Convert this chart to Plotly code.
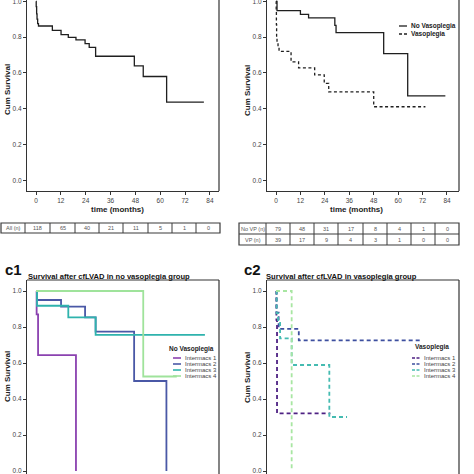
import plotly.graph_objects as go

# ---------------- data ----------------
# Panel a: all patients
t_all = [0, 0.1, 0.3, 0.5, 0.8, 1.2, 7.9, 12.1, 15.6, 19.3, 23.7, 25.7, 28.8, 47.5, 51.8, 63.1, 81.1]
s_all = [1.0, 0.97, 0.93, 0.90, 0.875, 0.862, 0.838, 0.814, 0.799, 0.784, 0.764, 0.743, 0.693, 0.639, 0.580, 0.437, 0.437]

# Panel b
t_novp = [0, 0.5, 12.0, 16.0, 28.9, 29.5, 52.9, 64.7, 83.2]
s_novp = [1.0, 0.948, 0.927, 0.907, 0.866, 0.825, 0.708, 0.472, 0.472]
t_vp = [0, 0.1, 0.2, 0.3, 0.5, 1.0, 1.5, 7.4, 11.1, 19.0, 23.7, 25.9, 48.0, 73.4]
s_vp = [1.0, 0.95, 0.87, 0.80, 0.77, 0.745, 0.72, 0.662, 0.628, 0.589, 0.541, 0.494, 0.411, 0.411]

# Panel c1: no vasoplegia by Intermacs
c1_t = [
    [0, 0.3, 1.0, 19.3],
    [0, 0.5, 12.1, 23.7, 28.8, 47.4, 63.0],
    [0, 0.5, 15.6, 28.8, 81.6],
    [0, 51.8, 68.0],
]
c1_s = [
    [1.0, 0.87, 0.644, 0.0],
    [1.0, 0.95, 0.913, 0.854, 0.774, 0.50, 0.0],
    [1.0, 0.918, 0.854, 0.756, 0.756],
    [1.0, 0.525, 0.525],
]
# Panel c2: vasoplegia by Intermacs
c2_t = [
    [0, 0.2, 0.5, 26.7],
    [0, 0.3, 1.3, 11.2, 71.7],
    [0, 0.3, 1.0, 2.0, 7.7, 26.2, 34.9],
    [0, 7.7],
]
c2_s = [
    [1.0, 0.84, 0.32, 0.32],
    [1.0, 0.88, 0.79, 0.726, 0.726],
    [1.0, 0.876, 0.83, 0.737, 0.589, 0.30, 0.30],
    [1.0, 0.0],
]
intermacs_names = ["Intermacs 1", "Intermacs 2", "Intermacs 3", "Intermacs 4"]
c1_colors = ["#8b42b0", "#4a58a6", "#2fb3ad", "#9fe39b"]
c2_colors = ["#4e2183", "#3d4f9f", "#45bbb1", "#a8e6a2"]

x_ticks = [0, 12, 24, 36, 48, 60, 72, 84]
y_ticks = [0.0, 0.2, 0.4, 0.6, 0.8, 1.0]

risk_all_label = "All (n)"
risk_all = [118, 65, 40, 21, 11, 5, 1, 0]
risk_novp_label = "No VP (n)"
risk_novp = [79, 48, 31, 17, 8, 4, 1, 0]
risk_vp_label = "VP (n)"
risk_vp = [39, 17, 9, 4, 3, 1, 0, 0]

# ---------------- figure ----------------
W = H = 474
FONT = "Liberation Sans, Arial, sans-serif"
AX = "#333333"

def px(x):
    return x / W

def py(y):
    return 1 - y / H

fig = go.Figure()

def km(t, s, xa, ya, color, width=1.4, dash="solid"):
    fig.add_trace(go.Scatter(x=t, y=s, mode="lines", line_shape="hv",
                             line=dict(color=color, width=width, dash=dash),
                             xaxis=xa, yaxis=ya, showlegend=False, hoverinfo="skip"))

km(t_all, s_all, "x", "y", "#1f1f1f", 1.3)
km(t_novp, s_novp, "x2", "y2", "#1f1f1f", 1.3)
km(t_vp, s_vp, "x2", "y2", "#1f1f1f", 1.3, "3px,2.5px")
for i in range(4):
    km(c1_t[i], c1_s[i], "x3", "y3", c1_colors[i], 1.8)
for i in range(4):
    km(c2_t[i], c2_s[i], "x4", "y4", c2_colors[i], 1.8, "4px,3px")

tickfont = dict(size=6.5, color="#444", family=FONT)

def xaxis(dom, rng, show=True, anchor="y"):
    d = dict(domain=dom, range=rng, anchor=anchor, showgrid=False, zeroline=False,
             tickvals=x_ticks, tickfont=tickfont, automargin=False,
             ticklabeloverflow="allow")
    if show:
        d.update(showline=True, linecolor=AX, linewidth=1.2, ticks="outside",
                 ticklen=3, tickcolor=AX, tickwidth=1)
    else:
        d.update(showline=False, showticklabels=False, ticks="")
    return d

def yaxis(dom, rng, anchor):
    return dict(domain=dom, range=rng, anchor=anchor, showgrid=False, zeroline=False,
                tickvals=y_ticks, tickformat=".1f", tickfont=tickfont, automargin=False,
                ticklabeloverflow="allow",
                showline=True, linecolor=AX, linewidth=1.2, ticks="outside",
                ticklen=3, tickcolor=AX, tickwidth=1)

xa_rng = [-4.35, 88.4]
xb_rng = [-4.42, 89.9]
ytop_rng = [(180.3 - 191) / 179, (180.3 - 0) / 179]
ybot_rng = [(471 - 474) / 180, (471 - 280) / 180]

fig.update_layout(
    width=W, height=H, margin=dict(l=0, r=0, t=0, b=0, pad=0),
    paper_bgcolor="white", plot_bgcolor="white",
    xaxis=xaxis([px(27), px(219)], xa_rng, True, "y"),
    yaxis=yaxis([py(191), 1], ytop_rng, "x"),
    xaxis2=xaxis([px(267), px(459)], xb_rng, True, "y2"),
    yaxis2=yaxis([py(191), 1], ytop_rng, "x2"),
    xaxis3=xaxis([px(27), px(219)], xa_rng, False, "y3"),
    yaxis3=yaxis([0, py(280)], ybot_rng, "x3"),
    xaxis4=xaxis([px(267), px(459)], xb_rng, False, "y4"),
    yaxis4=yaxis([0, py(280)], ybot_rng, "x4"),
    showlegend=False,
)

shapes = []
def frame_line(xr, yr, x0, y0, x1, y1):
    shapes.append(dict(type="line", xref=xr + " domain", yref=yr + " domain",
                       x0=x0, y0=y0, x1=x1, y1=y1, line=dict(color=AX, width=1.2)))

frame_line("x", "y", 1, 0, 1, 1)
frame_line("x2", "y2", 1, 0, 1, 1)
frame_line("x3", "y3", 1, 0, 1, 1)
frame_line("x3", "y3", 0, 1, 1, 1)
frame_line("x4", "y4", 1, 0, 1, 1)
frame_line("x4", "y4", 0, 1, 1, 1)

ann = []
def text(x, y, s, size, bold=False, xanchor="center", angle=0, color="#222"):
    ann.append(dict(x=px(x), y=py(y), xref="paper", yref="paper", text=("<b>%s</b>" % s) if bold else s,
                    showarrow=False, xanchor=xanchor, yanchor="middle", textangle=angle,
                    font=dict(size=size, color=color, family=FONT)))

# ---- risk tables (grid + text) ----
def risk_table(col_edges, row_edges, rows):
    x0, x1 = col_edges[0], col_edges[-1]
    y0, y1 = row_edges[0], row_edges[-1]
    shapes.append(dict(type="rect", xref="paper", yref="paper", x0=px(x0), x1=px(x1),
                       y0=py(y0), y1=py(y1), line=dict(color="#3a3a3a", width=1.2)))
    for cx in col_edges[1:-1]:
        shapes.append(dict(type="line", xref="paper", yref="paper", x0=px(cx), x1=px(cx),
                           y0=py(y0), y1=py(y1), line=dict(color="#3a3a3a", width=1)))
    for ry in row_edges[1:-1]:
        shapes.append(dict(type="line", xref="paper", yref="paper", x0=px(x0), x1=px(x1),
                           y0=py(ry), y1=py(ry), line=dict(color="#3a3a3a", width=1)))
    for r, row in enumerate(rows):
        yc = (row_edges[r] + row_edges[r + 1]) / 2
        for c, val in enumerate(row):
            xc = (col_edges[c] + col_edges[c + 1]) / 2
            text(xc, yc, str(val), 5.5, False, color="#555")

risk_table([1, 25, 50, 75, 99, 123, 148, 172, 196, 220], [223, 233],
           [[risk_all_label] + risk_all])
risk_table([239, 266, 290, 314, 338, 363, 387, 411, 435, 459], [223, 234, 245],
           [[risk_novp_label] + risk_novp, [risk_vp_label] + risk_vp])

# axis titles
for xx, yy in [(7, 90), (247, 90), (7, 377), (247, 377)]:
    text(xx, yy, "Cum Survival", 8, True, angle=-90)
text(117, 210, "time (months)", 8, True)
text(356, 210, "time (months)", 8, True)

# panel labels and titles
text(3, 269, "c1", 15, True, "left", color="#111")
text(242, 269, "c2", 15, True, "left", color="#111")
text(26, 276, "Survival after cfLVAD in no vasoplegia group", 7.6, True, "left", color="#111")
text(264, 276, "Survival after cfLVAD in vasoplegia group", 7.6, True, "left", color="#111")

# legend panel b
legend_b = [("No Vasoplegia", "solid"), ("Vasoplegia", "3px,2px")]
for k, (name, dash) in enumerate(legend_b):
    yy = 26 + 8 * k
    shapes.append(dict(type="line", xref="paper", yref="paper", x0=px(399), x1=px(407),
                       y0=py(yy), y1=py(yy), line=dict(color="#1f1f1f", width=1.3, dash=dash)))
    text(409, yy, name, 6.5, True, "left")

# legend c1
text(167, 349, "No Vasoplegia", 6.5, True, "left")
for k in range(4):
    yy = 358 + 6 * k
    shapes.append(dict(type="line", xref="paper", yref="paper", x0=px(173), x1=px(181),
                       y0=py(yy), y1=py(yy), line=dict(color=c1_colors[k], width=1.6)))
    text(183, yy, intermacs_names[k], 6, False, "left", color="#444")

# legend c2
text(413, 347, "Vasoplegia", 6.5, True, "left")
for k in range(4):
    yy = 358 + 6 * k
    shapes.append(dict(type="line", xref="paper", yref="paper", x0=px(412), x1=px(420),
                       y0=py(yy), y1=py(yy), line=dict(color=c2_colors[k], width=1.6, dash="3px,1.5px")))
    text(422, yy, intermacs_names[k], 6, False, "left", color="#444")

fig.update_layout(shapes=shapes, annotations=ann)
fig.write_html("out.html", config={"displayModeBar": False},
               post_script="document.body.style.margin='0';")
